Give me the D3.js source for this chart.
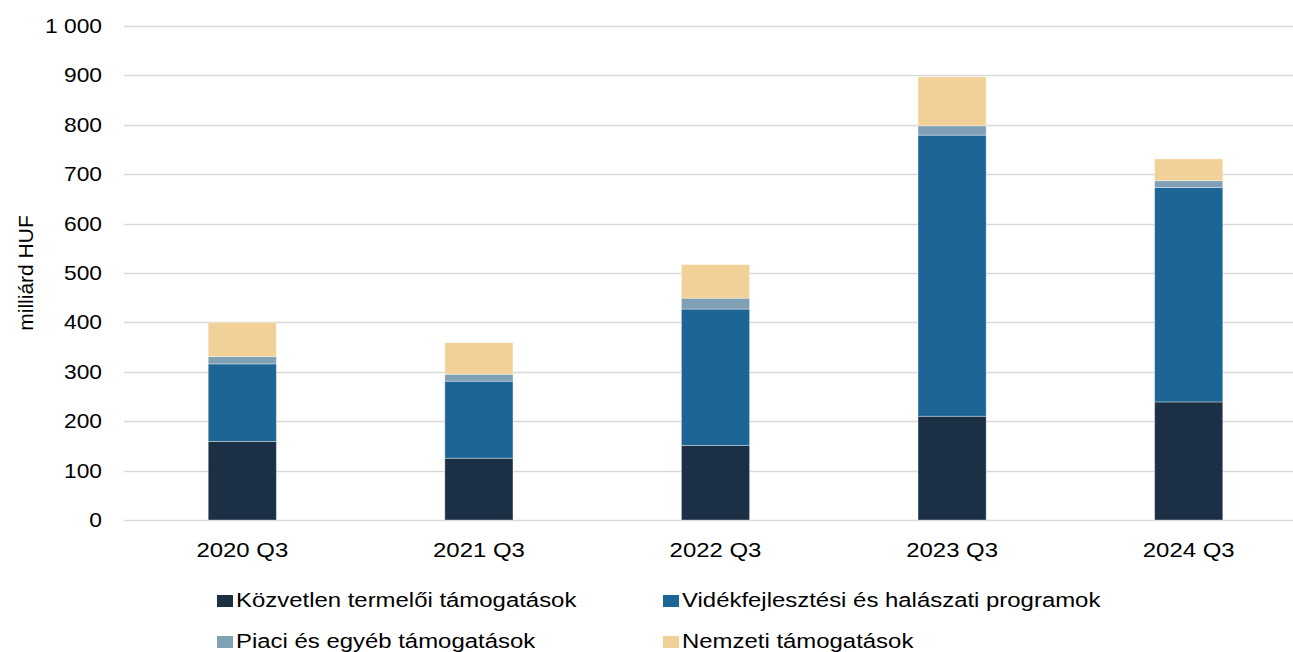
<!DOCTYPE html>
<html>
<head>
<meta charset="utf-8">
<script src="https://cdn.jsdelivr.net/npm/d3@7"></script>
<style>
  body { margin: 0; background: #fff; }
  svg { display: block; font-family: "Liberation Sans", Arial, sans-serif; }
</style>
</head>
<body>
<svg id="chart"></svg>
<script>
const width = 1293;
const height = 652;

// data (milliárd HUF)
const categories = ['2020 Q3', '2021 Q3', '2022 Q3', '2023 Q3', '2024 Q3'];
const seriesNames = [
  'Közvetlen termelői támogatások',
  'Vidékfejlesztési és halászati programok',
  'Piaci és egyéb támogatások',
  'Nemzeti támogatások'
];
const direct = [159, 125, 151, 210, 239];
const rural = [157, 156, 276, 569, 434];
const market = [15, 14, 22, 19, 14];
const national = [69, 64, 68, 99, 44];
const yTicks = [0, 100, 200, 300, 400, 500, 600, 700, 800, 900, 1000];
const colors = ['#1b3045', '#1d6595', '#7fa0b5', '#f1d198'];

const stretch = 1.14; // text in the original is a bit wider than Arial
const margin = { top: 26, right: -14, bottom: 132, left: 124 };

const svg = d3.select('#chart')
  .attr('width', width).attr('height', height);

const rows = categories.map((c, i) => ({
  cat: c,
  s0: direct[i], s1: rural[i], s2: market[i], s3: national[i]
}));
const stack = d3.stack().keys(['s0', 's1', 's2', 's3']);
const layers = stack(rows);

const x = d3.scaleBand()
  .domain(categories)
  .range([margin.left, width - margin.right])
  .paddingInner(0.712)
  .paddingOuter(0.356);

const y = d3.scaleLinear()
  .domain([0, 1000])
  .range([height - margin.bottom, margin.top]);

// widen a text horizontally around its anchor
function widen(sel) {
  sel.each(function () {
    const t = d3.select(this);
    const tx = +t.attr('x') || 0;
    t.attr('x', 0).attr('transform', `translate(${tx},0) scale(${stretch},1)`);
  });
}

// gridlines
svg.append('g')
  .selectAll('line')
  .data(yTicks)
  .enter()
  .append('line')
  .attr('x1', margin.left)
  .attr('x2', width)
  .attr('y1', d => Math.round(y(d)) + 0.5)
  .attr('y2', d => Math.round(y(d)) + 0.5)
  .style('stroke', '#d9d9d9')
  .style('stroke-width', 1.3);

// y axis labels
const yAxis = d3.axisLeft(y)
  .tickValues(yTicks)
  .tickSize(0)
  .tickPadding(22)
  .tickFormat(d => d3.format(',')(d).replace(',', ' '));
svg.append('g')
  .attr('transform', `translate(${margin.left},0)`)
  .call(yAxis)
  .call(g => g.select('.domain').remove())
  .selectAll('text')
  .style('font-size', '20px')
  .style('fill', '#000')
  .style('font-family', '"Liberation Sans", Arial, sans-serif')
  .call(widen);

svg.append('text')
  .attr('transform', `translate(33,${y(500)}) rotate(-90)`)
  .attr('text-anchor', 'middle')
  .style('font-size', '21px')
  .text('milliárd HUF');

// bars
svg.append('g')
  .selectAll('g')
  .data(layers)
  .enter()
  .append('g')
  .style('fill', (d, i) => colors[i])
  .selectAll('rect')
  .data(d => d)
  .enter()
  .append('rect')
  .attr('x', d => x(d.data.cat))
  .attr('width', x.bandwidth())
  .attr('y', d => y(d[1]))
  .attr('height', d => y(d[0]) - y(d[1]))
  .style('stroke', 'rgba(255,255,255,0.35)')
  .style('stroke-width', 1);

// x axis labels
const xAxis = d3.axisBottom(x).tickSize(0).tickPadding(22);
svg.append('g')
  .attr('transform', `translate(0,${y(0)})`)
  .call(xAxis)
  .call(g => g.select('.domain').remove())
  .selectAll('text')
  .style('font-size', '21px')
  .style('fill', '#000')
  .style('font-family', '"Liberation Sans", Arial, sans-serif')
  .call(widen);

// legend
const legendPos = [[217, 600], [663, 600], [217, 641], [663, 641]];
const legend = svg.append('g')
  .selectAll('g')
  .data(seriesNames)
  .enter()
  .append('g')
  .attr('transform', (d, i) => `translate(${legendPos[i][0]},${legendPos[i][1]})`);
legend.append('rect')
  .attr('x', 0).attr('y', -5)
  .attr('width', 16).attr('height', 12)
  .style('fill', (d, i) => colors[i]);
legend.append('text')
  .attr('x', 19).attr('y', 7)
  .style('font-size', '21px')
  .text(d => d)
  .call(widen);
</script>
</body>
</html>
